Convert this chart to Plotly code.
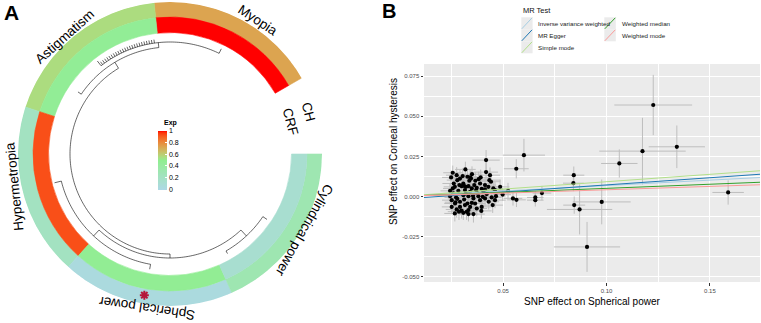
import plotly.graph_objects as go
import numpy as np

W, H = 761, 323

# ---------------- Panel A data ----------------
traits = ["Myopia", "Astigmatism", "Hypermetropia", "Spherical power", "Cylindrical power"]
tracks = ["CH", "CRF"]
ch_values = [0.73, 0.56, 0.22, 0.05, 0.31]
crf_values = [1.00, 0.47, 0.93, 0.48, 0.13]
exp_ticks = [0, 0.2, 0.4, 0.6, 0.8, 1]
exp_ticklabels = ["0", "0.2", "0.4", "0.6", "0.8", "1"]
significant_trait = "Spherical power"

# dendrogram (radius of each merge arc, start/end angle) and its drops
dend_arc_r = [112, 107, 112, 112, 104, 100]
dend_arc_a0 = [64, 96, 194, 300, 227, 121]
dend_arc_a1 = [128, 146, 260, 326, 313, 270]
dend_drop_theta = [64, 128, 96, 146, 194, 260, 326, 300, 227, 313, 121, 270]
dend_drop_r0 = [112, 112, 107, 107, 112, 112, 112, 112, 104, 104, 100, 100]
dend_drop_r1 = [117, 118, 112, 111, 119, 117, 117, 115, 112, 112, 107, 104]
dense_leaf_range = [98, 127]
dense_leaf_count = 24

# ---------------- Panel B data ----------------
snp_x = [0.1226, 0.1340, 0.1174, 0.1062, 0.0601, 0.0564, 0.0418, 0.0842, 0.0840, 0.0844,
         0.0870, 0.0977, 0.0906, 0.1588, 0.0688, 0.0656, 0.0656, 0.0548, 0.0565, 0.0524,
         0.0498, 0.0486,
         0.0318, 0.0257, 0.0276, 0.0249, 0.0292, 0.0328, 0.0350, 0.0382, 0.0418, 0.0437,
         0.0434, 0.0442, 0.0392, 0.0366, 0.0337, 0.0308, 0.0289, 0.0267, 0.0244, 0.0300,
         0.0321, 0.0333, 0.0349, 0.0373, 0.0397, 0.0413, 0.0429, 0.0453, 0.0461, 0.0405,
         0.0373, 0.0341, 0.0316, 0.0284, 0.0260, 0.0273, 0.0252, 0.0268, 0.0292, 0.0312,
         0.0333, 0.0357, 0.0381, 0.0421, 0.0445, 0.0466, 0.0461, 0.0450, 0.0413, 0.0397,
         0.0365, 0.0341, 0.0316, 0.0292, 0.0276, 0.0300, 0.0308, 0.0324, 0.0333, 0.0357,
         0.0333, 0.0267, 0.0373, 0.0252, 0.0244, 0.0321, 0.0361, 0.0389, 0.0413, 0.0305,
         0.0341, 0.0279, 0.0262, 0.0370, 0.0349, 0.0389, 0.0279, 0.0328, 0.0308, 0.0257,
         0.0402, 0.0431, 0.0287, 0.0355, 0.0312, 0.0270, 0.0395, 0.0345]
snp_y = [0.0571, 0.0310, 0.0283, 0.0206, 0.0258, 0.0173, 0.0227, 0.0133, 0.0083, -0.0054,
         -0.0081, -0.0034, -0.0315, 0.0025, 0.0021, -0.0006, -0.0023, -0.0012, -0.0021, 0.0035,
         0.0012, 0.0060,
         0.0169, 0.0148, 0.0133, 0.0119, 0.0112, 0.0123, 0.0139, 0.0108, 0.0152, 0.0133,
         0.0102, 0.0092, 0.0119, 0.0098, 0.0098, 0.0081, 0.0071, 0.0060, 0.0035, 0.0064,
         0.0060, 0.0064, 0.0050, 0.0054, 0.0048, 0.0044, 0.0060, 0.0050, 0.0040, 0.0029,
         0.0023, 0.0029, 0.0040, 0.0035, 0.0019, -0.0006, -0.0023, -0.0044, -0.0033, -0.0019,
         0.0002, -0.0012, 0.0002, 0.0015, -0.0006, 0.0002, -0.0023, -0.0054, -0.0012, -0.0065,
         -0.0044, -0.0065, -0.0054, -0.0065, -0.0081, -0.0089, -0.0102, -0.0096, -0.0085, -0.0110,
         -0.0110, -0.0106, -0.0075, -0.0065, 0.0002, 0.0019, 0.0071, 0.0081, 0.0071, 0.0127,
         0.0119, 0.0102, 0.0081, 0.0040, -0.0040, -0.0023, -0.0015, -0.0044, 0.0008, 0.0050,
         -0.0002, -0.0033, -0.0095, 0.0005, 0.0066, -0.0036, -0.0090, 0.0112]
snp_se_x = [0.0188, 0.0136, 0.0209, 0.0088, 0.0102, 0.0060, 0.0066, 0.0051, 0.0050, 0.0053,
            0.0158, 0.0140, 0.0160, 0.0076, 0.0045, 0.0040, 0.0040, 0.0045, 0.0045, 0.0050,
            0.0040, 0.0045,
            0.0050, 0.0046, 0.0052, 0.0044, 0.0055, 0.0048, 0.0051, 0.0047, 0.0058, 0.0049,
            0.0053, 0.0045, 0.0050, 0.0056, 0.0047, 0.0052, 0.0049, 0.0054, 0.0046, 0.0051,
            0.0048, 0.0057, 0.0050, 0.0045, 0.0053, 0.0049, 0.0052, 0.0047, 0.0055, 0.0050,
            0.0046, 0.0054, 0.0048, 0.0051, 0.0049, 0.0056, 0.0047, 0.0052, 0.0050, 0.0045,
            0.0053, 0.0049, 0.0051, 0.0055, 0.0048, 0.0046, 0.0052, 0.0050, 0.0054, 0.0047,
            0.0051, 0.0049, 0.0056, 0.0048, 0.0053, 0.0050, 0.0046, 0.0052, 0.0049, 0.0055,
            0.0047, 0.0051, 0.0050, 0.0048, 0.0053, 0.0046, 0.0052, 0.0049, 0.0054, 0.0050,
            0.0047, 0.0051, 0.0055, 0.0048, 0.0050, 0.0053, 0.0046, 0.0049, 0.0052, 0.0047,
            0.0051, 0.0050, 0.0054, 0.0048, 0.0049, 0.0052, 0.0050, 0.0047]
snp_se_y = [0.0188, 0.0133, 0.0208, 0.0088, 0.0102, 0.0060, 0.0063, 0.0054, 0.0050, 0.0054,
            0.0156, 0.0140, 0.0156, 0.0076, 0.0045, 0.0040, 0.0040, 0.0045, 0.0045, 0.0050,
            0.0040, 0.0045,
            0.0048, 0.0045, 0.0050, 0.0043, 0.0053, 0.0047, 0.0049, 0.0046, 0.0056, 0.0048,
            0.0051, 0.0044, 0.0049, 0.0054, 0.0046, 0.0050, 0.0048, 0.0052, 0.0045, 0.0050,
            0.0047, 0.0055, 0.0049, 0.0044, 0.0051, 0.0048, 0.0050, 0.0046, 0.0053, 0.0049,
            0.0045, 0.0052, 0.0047, 0.0050, 0.0048, 0.0054, 0.0046, 0.0051, 0.0049, 0.0044,
            0.0051, 0.0048, 0.0050, 0.0053, 0.0047, 0.0045, 0.0050, 0.0049, 0.0052, 0.0046,
            0.0050, 0.0048, 0.0054, 0.0047, 0.0051, 0.0049, 0.0045, 0.0050, 0.0048, 0.0053,
            0.0046, 0.0050, 0.0049, 0.0047, 0.0051, 0.0045, 0.0050, 0.0048, 0.0052, 0.0049,
            0.0046, 0.0050, 0.0053, 0.0047, 0.0049, 0.0051, 0.0045, 0.0048, 0.0050, 0.0046,
            0.0050, 0.0049, 0.0052, 0.0047, 0.0048, 0.0051, 0.0049, 0.0046]

mr_methods = ["Inverse variance weighted", "MR Egger", "Simple mode", "Weighted median", "Weighted mode"]
mr_slopes = [0.068, 0.0895, 0.092, 0.051, 0.042]
mr_intercepts = [0.0, -0.0017, 0.0, 0.0, 0.0]
mr_colors = ["#A6CEE3", "#1F78B4", "#B2DF8A", "#33A02C", "#FB9A99"]

x_ticks = [0.05, 0.10, 0.15]
x_ticklabels = ["0.05", "0.10", "0.15"]
y_ticks = [-0.050, -0.025, 0.000, 0.025, 0.050, 0.075]
y_ticklabels = ["-0.050", "-0.025", "0.000", "0.025", "0.050", "0.075"]

FONT = "Liberation Sans, Arial, Helvetica, sans-serif"


def px(x):
    return x / W


def py(y):
    return 1 - y / H


# ---------- LAB colour ramp (lightblue -> lightgreen -> red) ----------
def hex2rgb(h):
    return np.array([int(h[i:i + 2], 16) / 255 for i in (1, 3, 5)])


M = np.array([[0.4124564, 0.3575761, 0.1804375],
              [0.2126729, 0.7151522, 0.0721750],
              [0.0193339, 0.1191920, 0.9503041]])
Minv = np.linalg.inv(M)
WHITE = np.array([0.95047, 1.0, 1.08883])


def to_lab(h):
    c = hex2rgb(h)
    lin = np.where(c <= 0.04045, c / 12.92, ((c + 0.055) / 1.055) ** 2.4)
    xyz = M @ lin / WHITE
    f = np.where(xyz > 0.008856, np.cbrt(xyz), 7.787 * xyz + 16 / 116)
    return np.array([116 * f[1] - 16, 500 * (f[0] - f[1]), 200 * (f[1] - f[2])])


def from_lab(lab):
    fy = (lab[0] + 16) / 116
    fx = fy + lab[1] / 500
    fz = fy - lab[2] / 200
    f = np.array([fx, fy, fz])
    xyz = np.where(f ** 3 > 0.008856, f ** 3, (f - 16 / 116) / 7.787) * WHITE
    lin = Minv @ xyz
    lin = np.clip(lin, 0, 1)
    c = np.where(lin <= 0.0031308, 12.92 * lin, 1.055 * lin ** (1 / 2.4) - 0.055)
    c = np.clip(c, 0, 1)
    return "rgb(%d,%d,%d)" % tuple(np.round(c * 255))


ramp_pts = [0.0, 0.5, 1.0]
ramp_cols = ["#ADD8E6", "#90EE90", "#FF0000"]
ramp_lab = [to_lab(c) for c in ramp_cols]
colorscale = []
for t in np.linspace(0, 1, 41):
    k = 0 if t <= 0.5 else 1
    u = (t - ramp_pts[k]) / (ramp_pts[k + 1] - ramp_pts[k])
    colorscale.append([float(t), from_lab(ramp_lab[k] * (1 - u) + ramp_lab[k + 1] * u)])

fig = go.Figure()

# ---------------- Panel A: circular heatmap ----------------
CX, CY, R = 170, 154, 152
START, SPAN = 30, 66
theta_c = [START + SPAN * (i + 0.5) for i in range(len(traits))]
ring_in = [137, 121.5]   # CH outer ring, CRF inner ring
ring_th = [15, 15.5]

for k, vals in enumerate([ch_values, crf_values]):
    fig.add_trace(go.Barpolar(
        r=[ring_th[k]] * len(vals), base=[ring_in[k]] * len(vals),
        theta=theta_c, width=[SPAN] * len(vals),
        marker=dict(color=vals, colorscale=colorscale, cmin=0, cmax=1,
                    line=dict(color=vals, colorscale=colorscale, cmin=0, cmax=1, width=0.6),
                    showscale=(k == 0),
                    colorbar=dict(x=px(157.5), xanchor="left", y=py(189.5), yanchor="bottom",
                                  lenmode="pixels", len=59, thicknessmode="pixels", thickness=9,
                                  xpad=0, ypad=0, outlinewidth=0,
                                  tickvals=exp_ticks, ticktext=exp_ticklabels,
                                  ticks="inside", ticklen=2, tickcolor="white",
                                  tickfont=dict(size=7, color="black", family=FONT))),
        hoverinfo="skip", showlegend=False, subplot="polar"))

# dendrogram
dr, dt = [], []
for r, a0, a1 in zip(dend_arc_r, dend_arc_a0, dend_arc_a1):
    for a in np.linspace(a0, a1, int(abs(a1 - a0)) + 2):
        dr.append(r)
        dt.append(float(a))
    dr.append(None)
    dt.append(None)
for th, r0, r1 in zip(dend_drop_theta, dend_drop_r0, dend_drop_r1):
    dr += [r0, r1, None]
    dt += [th, th, None]
for a in np.linspace(dense_leaf_range[0], dense_leaf_range[1], dense_leaf_count):
    dr += [112, 115.5, None]
    dt += [float(a), float(a), None]
fig.add_trace(go.Scatterpolar(r=dr, theta=dt, mode="lines",
                              line=dict(color="black", width=0.6),
                              hoverinfo="skip", showlegend=False, subplot="polar"))

# significance asterisk
sig_i = traits.index(significant_trait)
fig.add_trace(go.Scatterpolar(r=[143.5], theta=[theta_c[sig_i] - 1.3], mode="markers",
                              marker=dict(symbol="asterisk-open", size=7.5, color="#B5173B",
                                          line=dict(color="#B5173B", width=2)),
                              hoverinfo="skip", showlegend=False, subplot="polar"))

# ---------------- Panel B: MR scatter ----------------
fig.add_trace(go.Scatter(
    x=snp_x, y=snp_y, mode="markers",
    marker=dict(color="black", size=4.2),
    error_x=dict(type="data", array=snp_se_x, color="#BEBEBE", thickness=1, width=0),
    error_y=dict(type="data", array=snp_se_y, color="#BEBEBE", thickness=1, width=0),
    hoverinfo="skip", showlegend=False, xaxis="x", yaxis="y"))

XR = [0.0118, 0.1742]
YR = [-0.0534, 0.0827]
for name, b, a, col in zip(mr_methods, mr_slopes, mr_intercepts, mr_colors):
    fig.add_trace(go.Scatter(x=XR, y=[a + b * XR[0], a + b * XR[1]], mode="lines",
                             line=dict(color=col, width=1.1), name=name,
                             hoverinfo="skip", showlegend=False, xaxis="x", yaxis="y"))

# ---------------- layout ----------------
shapes = []
annotations = []


def note(text, x, y, size, xanchor="center", yanchor="middle", angle=0, color="black"):
    annotations.append(dict(text=text, x=px(x), y=py(y), xref="paper", yref="paper",
                            xanchor=xanchor, yanchor=yanchor, showarrow=False, textangle=angle,
                            font=dict(size=size, color=color, family=FONT)))


# legend for panel B (ggplot-style, two columns)
key_cols = [(521.3, 532.6), (604.3, 615.8)]
key_rows = [(17.3, 29.3), (29.3, 41.3), (41.3, 53.3)]
label_x = [536, 619.7]
for i, (name, col) in enumerate(zip(mr_methods, mr_colors)):
    c = 0 if i < 3 else 1
    rr = i if i < 3 else i - 3
    x0, x1 = key_cols[c]
    y0, y1 = key_rows[rr]
    shapes.append(dict(type="rect", xref="paper", yref="paper",
                       x0=px(x0), x1=px(x1), y0=py(y1), y1=py(y0),
                       fillcolor="#EBEBEB", line=dict(width=0), layer="above"))
    shapes.append(dict(type="line", xref="paper", yref="paper",
                       x0=px(x0 + 0.5), x1=px(x1 - 0.5), y0=py(y1 - 0.5), y1=py(y0 + 0.5),
                       line=dict(color=col, width=1), layer="above"))
    note(name, label_x[c], (y0 + y1) / 2, 6.2, xanchor="left", color="#222")
note("MR Test", 521, 10, 7.5, xanchor="left", color="#111")

# axis titles for B
note("SNP effect on Spherical power", 592, 301.5, 10)
note("SNP effect on Corneal hysteresis", 393, 152, 10, angle=-90)

# panel letters
note("<b>A</b>", 11, 12.5, 21)
note("<b>B</b>", 389, 10.5, 20)

# sector labels for A (positions along the outside of the ring)
label_pos = [(258.3, 20.0), (65.0, 36.7), (14.0, 187.0), (146.7, 308.3), (305.0, 230.0)]
label_ang = [33.4, -41.8, -96.0, -171.4, 119.4]
for name, (lx, ly), ang in zip(traits, label_pos, label_ang):
    note(name, lx, ly, 13.5, angle=ang)
# track labels
for name, (lx, ly) in zip(tracks, [(309, 112), (290, 122)]):
    note(name, lx, ly, 13.5, angle=75)
# colorbar title
note("<b>Exp</b>", 161.5, 123, 7, xanchor="left")

fig.update_layout(
    width=W, height=H, margin=dict(l=0, r=0, t=0, b=0),
    font=dict(family=FONT, color="black"),
    paper_bgcolor="white", plot_bgcolor="#EBEBEB", showlegend=False,
    polar=dict(domain=dict(x=[px(CX - R), px(CX + R)], y=[py(CY + R), py(CY - R)]),
               bgcolor="white",
               angularaxis=dict(visible=False, rotation=0, direction="counterclockwise"),
               radialaxis=dict(visible=False, range=[0, R])),
    xaxis=dict(domain=[px(424), px(760)], range=XR, tickvals=x_ticks, ticktext=x_ticklabels,
               showgrid=True, gridcolor="white", gridwidth=1, zeroline=False,
               minor=dict(tickvals=[0.025, 0.075, 0.125], showgrid=True, gridcolor="white", gridwidth=0.5),
               ticks="outside", ticklen=2.5, tickwidth=0.6, tickcolor="#333",
               tickfont=dict(size=6, color="#4D4D4D", family=FONT), anchor="y"),
    yaxis=dict(domain=[py(282), py(64)], range=YR, tickvals=y_ticks, ticktext=y_ticklabels,
               showgrid=True, gridcolor="white", gridwidth=1, zeroline=False,
               minor=dict(tickvals=[-0.0375, -0.0125, 0.0125, 0.0375, 0.0625], showgrid=True,
                          gridcolor="white", gridwidth=0.5),
               ticks="outside", ticklen=2.5, tickwidth=0.6, tickcolor="#333",
               tickfont=dict(size=6, color="#4D4D4D", family=FONT), anchor="x"),
    shapes=shapes, annotations=annotations,
)

fig.write_html("out.html", config={"displayModeBar": False},
               post_script="document.body.style.margin='0';")
